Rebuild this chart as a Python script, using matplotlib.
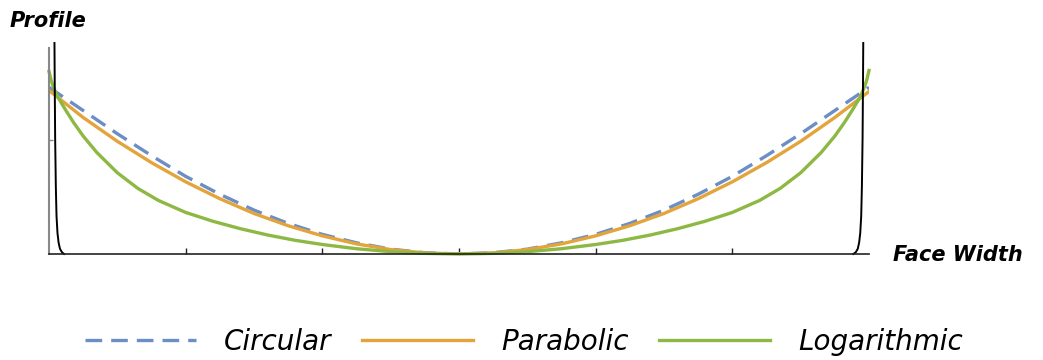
import matplotlib
matplotlib.use("Agg")
import matplotlib.pyplot as plt
from matplotlib.lines import Line2D

# positions along the face width (0 .. 6)
x_main = [0.0, 0.25, 0.5, 0.75, 1.0, 1.25, 1.5, 1.75, 2.0, 2.25, 2.5, 2.75, 3.0,
          3.25, 3.5, 3.75, 4.0, 4.25, 4.5, 4.75, 5.0, 5.25, 5.5, 5.75, 6.0]

circular = [0.79, 0.68, 0.57, 0.466, 0.368, 0.283, 0.208, 0.145, 0.093, 0.053, 0.023, 0.006, 0.0,
            0.006, 0.023, 0.053, 0.093, 0.145, 0.208, 0.283, 0.368, 0.466, 0.57, 0.68, 0.79]

parabolic = [0.775, 0.647, 0.534, 0.433, 0.342, 0.262, 0.192, 0.134, 0.086, 0.048, 0.021, 0.005, 0.0,
             0.005, 0.021, 0.048, 0.086, 0.134, 0.192, 0.262, 0.342, 0.433, 0.534, 0.647, 0.77]

x_log = [0.0, 0.015, 0.03, 0.05, 0.07, 0.12, 0.18, 0.25, 0.35, 0.5, 0.65, 0.8, 1.0, 1.2, 1.4,
         1.6, 1.8, 2.0, 2.25, 2.5, 2.75, 3.0,
         3.25, 3.5, 3.75, 4.0, 4.2, 4.4, 4.6, 4.8, 5.0, 5.2, 5.35, 5.5, 5.65, 5.75,
         5.82, 5.88, 5.93, 5.95, 5.97, 5.985, 6.0]
logarithmic = [0.865, 0.825, 0.795, 0.763, 0.738, 0.684, 0.623, 0.559, 0.481, 0.385, 0.311,
               0.254, 0.197, 0.155, 0.12, 0.09, 0.065, 0.045, 0.025, 0.011, 0.003, 0.0,
               0.003, 0.011, 0.025, 0.045, 0.065, 0.09, 0.12, 0.155, 0.197, 0.254, 0.311,
               0.385, 0.481, 0.559, 0.623, 0.684, 0.738, 0.765, 0.797, 0.828, 0.87]

# steep edge curves (black)
edge_left_x = [0.04, 0.042, 0.045, 0.05, 0.055, 0.062, 0.07, 0.08, 0.095, 0.11]
edge_left_y = [1.0, 0.8, 0.55, 0.32, 0.18, 0.1, 0.055, 0.025, 0.008, 0.0]
edge_right_x = [5.958, 5.956, 5.953, 5.948, 5.943, 5.936, 5.928, 5.918, 5.903, 5.885]
edge_right_y = [1.0, 0.8, 0.55, 0.32, 0.18, 0.1, 0.055, 0.025, 0.008, 0.0]

x_ticks = [1, 2, 3, 4, 5]
y_ticks = [0.54]

c_blue = "#6b8ec6"
c_orange = "#e3a43c"
c_green = "#8db843"

fig = plt.figure(figsize=(10.43, 3.6), dpi=100)
ax = fig.add_axes([49 / 1043, 106 / 360, 820 / 1043, 211 / 360])

ax.plot(x_main, circular, color=c_blue, lw=2.4, dashes=(5, 2.7), solid_capstyle="butt")
ax.plot(x_main, parabolic, color=c_orange, lw=2.4)
ax.plot(x_log, logarithmic, color=c_green, lw=2.4, clip_on=False)
ax.plot(edge_left_x, edge_left_y, color="black", lw=1.4, clip_on=False)
ax.plot(edge_right_x, edge_right_y, color="black", lw=1.4, clip_on=False)

ax.set_xlim(0, 6)
ax.set_ylim(0, 1.0)
ax.spines["top"].set_visible(False)
ax.spines["right"].set_visible(False)
ax.spines["left"].set_color("#888888")
ax.spines["left"].set_linewidth(1.5)
ax.spines["left"].set_bounds(0, 0.976)
ax.spines["bottom"].set_color("#222222")
ax.spines["bottom"].set_linewidth(1.2)
ax.set_xticks(x_ticks)
ax.set_yticks(y_ticks)
ax.set_xticklabels([])
ax.set_yticklabels([])
ax.tick_params(axis="x", direction="in", length=4, width=1, color="#222222")
ax.tick_params(axis="y", direction="in", length=3, width=1, color="#888888")

fig.text(10 / 1043, 1 - 21 / 360, "Profile", fontsize=15, fontweight="bold",
         fontstyle="italic", va="center", ha="left")
fig.text(893 / 1043, 1 - 255 / 360, "Face Width", fontsize=15, fontweight="bold",
         fontstyle="italic", va="center", ha="left")

handles = [
    Line2D([], [], color=c_blue, lw=2.4, dashes=(5, 2.7)),
    Line2D([], [], color=c_orange, lw=2.4),
    Line2D([], [], color=c_green, lw=2.4),
]
fig.legend(handles, ["Circular", "Parabolic", "Logarithmic"], loc="center",
           bbox_to_anchor=(524 / 1043, 1 - 342 / 360), ncol=3, frameon=False,
           prop={"size": 20, "style": "italic"}, handlelength=4.0,
           handletextpad=1.0, columnspacing=1.1)

fig.savefig("out.png", dpi=100)
